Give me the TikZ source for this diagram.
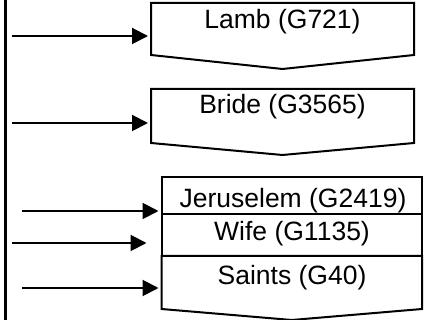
\documentclass[tikz,border=0pt]{standalone}
\usepackage{fontspec}
\setmainfont{Liberation Sans}
\usetikzlibrary{positioning,calc}
\usetikzlibrary{arrows.meta}
\tikzset{
  area/.style={rectangle, inner sep=0pt, outer sep=0pt},
  row/.style={rectangle, inner sep=0pt, outer sep=0pt, minimum width=260.5pt, draw=black, line width=2pt},
  lbl/.style={font=\fontsize{26.5}{30}\selectfont, inner sep=0pt, anchor=base},
  arr/.style={-{Triangle[length=16pt,width=16pt]}, line width=2pt, shorten >=3pt},
  edge/.style={line width=2pt, line join=miter}
}

\begin{document}
\begin{tikzpicture}[x=1pt,y=1pt]
	\useasboundingbox (0,0) rectangle (427,320);
	\coordinate (bartop) at (5.5,322);
	\coordinate (barbot) at (5.5,-2);
	\draw[line width=2.2pt] (bartop) -- (barbot);

	% upper boxes
	\node[area, minimum width=263pt, minimum height=52pt] (lambbox) at (282.5,291) {};
	\node[area, minimum width=263pt, minimum height=54pt] (bridebox) at (282.5,204) {};
	\draw[edge] (lambbox.north west) -- (lambbox.north east) -- (lambbox.south east)
		-- ($(lambbox.south)+(0,-14)$) -- (lambbox.south west) -- cycle;
	\draw[edge] (bridebox.north west) -- (bridebox.north east) -- (bridebox.south east)
		-- ($(bridebox.south)+(0,-12)$) -- (bridebox.south west) -- cycle;

	% lower box
	\node[row, minimum height=37pt] (jerrow) at (291.75,124.5) {};
	\node[row, minimum height=42pt, below=0pt of jerrow] (wiferow) {};
	\node[area, minimum width=260.5pt, minimum height=53pt, below=0pt of wiferow] (saintsbox) {};
	\draw[edge] (saintsbox.north west) -- (saintsbox.north east) -- (saintsbox.south east)
		-- ($(saintsbox.south)+(0,-11)$) -- (saintsbox.south west) -- cycle;

	% labels
	\node[lbl] (lamb) at (282.5,291) {Lamb (G721)};
	\node[lbl] (bride) at (282.5,206) {Bride (G3565)};
	\node[lbl] (jeruselem) at (293,112) {Jeruselem (G2419)};
	\node[lbl] (wife) at (292,79) {Wife (G1135)};
	\node[lbl] (saints) at (292,35) {Saints (G40)};

	% arrows
	\coordinate (in1) at (12,284);
	\coordinate (in2) at (12,197);
	\coordinate (in3) at (22,109);
	\coordinate (in4) at (12,77);
	\coordinate (in5) at (22,32);
	\draw[arr] (in1) -- (lambbox.west |- in1);
	\draw[arr] (in2) -- (bridebox.west |- in2);
	\draw[arr] (in3) -- (jerrow.west |- in3);
	\draw[arr, shorten >=15pt] (in4) -- (wiferow.west |- in4);
	\draw[arr] (in5) -- (saintsbox.west |- in5);
\end{tikzpicture}
\end{document}
